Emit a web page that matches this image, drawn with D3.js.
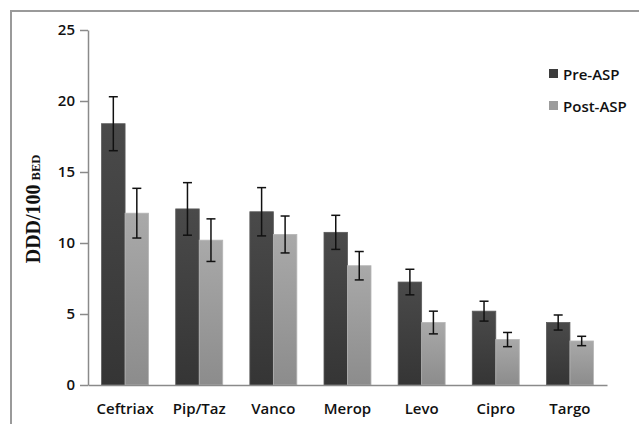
<!DOCTYPE html>
<html>
<head>
<meta charset="utf-8">
<script src="https://cdn.jsdelivr.net/npm/d3@7"></script>
<style>
  body { margin: 0; background: #fff; }
  svg text { font-family: "Open Sans", "Liberation Sans", sans-serif; }
</style>
</head>
<body>
<div id="chart"></div>
<script>
// antibiotics on the x axis
const drugs = ["Ceftriax", "Pip/Taz", "Vanco", "Merop", "Levo", "Cipro", "Targo"];
const seriesNames = ["Pre-ASP", "Post-ASP"];
// DDD/100 bed days
const preASP = [18.4, 12.4, 12.2, 10.75, 7.25, 5.2, 4.4];
const preErr = [1.9, 1.85, 1.7, 1.2, 0.9, 0.7, 0.53];
const postASP = [12.1, 10.2, 10.6, 8.4, 4.4, 3.2, 3.1];
const postErr = [1.75, 1.5, 1.3, 1.0, 0.8, 0.5, 0.33];
const yTicks = [0, 5, 10, 15, 20, 25];

const W = 639, H = 424;
const svg = d3.select("#chart").append("svg")
    .attr("width", W).attr("height", H);

// gradients like the old office charts
const defs = svg.append("defs");
const grads = [
    { id: "gPre", top: "#4a4a4a", bottom: "#353535" },
    { id: "gPost", top: "#a9a9a9", bottom: "#8c8c8c" }
];
grads.forEach(g => {
    const lg = defs.append("linearGradient").attr("id", g.id)
        .attr("x1", 0).attr("y1", 0).attr("x2", 0).attr("y2", 1);
    lg.append("stop").attr("offset", "0%").attr("stop-color", g.top);
    lg.append("stop").attr("offset", "100%").attr("stop-color", g.bottom);
});

// outer frame (runs off the right and bottom edge)
svg.append("rect")
    .attr("x", 11).attr("y", 11)
    .attr("width", 660).attr("height", 440)
    .attr("fill", "none")
    .attr("stroke", "#9a9a9a")
    .attr("stroke-width", 2);

const x0 = d3.scaleBand()
    .domain(drugs)
    .range([88, 607])
    .paddingInner(0.366)
    .paddingOuter(0.183);

const x1 = d3.scaleBand()
    .domain(seriesNames)
    .range([0, x0.bandwidth()]);

const y = d3.scaleLinear()
    .domain([0, 25])
    .range([385, 30]);

const rows = drugs.map((d, i) => ({
    drug: d,
    vals: [
        { s: "Pre-ASP", v: preASP[i], e: preErr[i], fill: "url(#gPre)" },
        { s: "Post-ASP", v: postASP[i], e: postErr[i], fill: "url(#gPost)" }
    ]
}));

const groups = svg.selectAll("g.grp")
    .data(rows)
    .enter().append("g")
    .attr("class", "grp")
    .attr("transform", d => `translate(${x0(d.drug)},0)`);

groups.selectAll("rect")
    .data(d => d.vals)
    .enter().append("rect")
    .attr("x", d => x1(d.s))
    .attr("y", d => y(d.v))
    .attr("width", x1.bandwidth())
    .attr("height", d => y(0) - y(d.v))
    .attr("fill", d => d.fill)
    .attr("stroke", d => d.s === "Pre-ASP" ? "#5a5a5a" : "#b5b5b5")
    .attr("stroke-width", 0.8);

// error bars
const cap = 4.5;
const err = groups.selectAll("g.err")
    .data(d => d.vals)
    .enter().append("g")
    .attr("class", "err")
    .attr("stroke", "#111")
    .attr("stroke-width", 1.5);

err.append("line")
    .attr("x1", d => x1(d.s) + x1.bandwidth() / 2)
    .attr("x2", d => x1(d.s) + x1.bandwidth() / 2)
    .attr("y1", d => y(d.v + d.e))
    .attr("y2", d => y(d.v - d.e));
[1, -1].forEach(sign => {
    err.append("line")
        .attr("x1", d => x1(d.s) + x1.bandwidth() / 2 - cap)
        .attr("x2", d => x1(d.s) + x1.bandwidth() / 2 + cap)
        .attr("y1", d => y(d.v + sign * d.e))
        .attr("y2", d => y(d.v + sign * d.e));
});

// y axis
const yAxis = svg.append("g")
    .attr("transform", "translate(88,0)")
    .call(d3.axisLeft(y).tickValues(yTicks).tickSize(8).tickSizeOuter(0).tickPadding(5));
yAxis.select(".domain").attr("stroke", "#8a8a8a").attr("stroke-width", 1.5);
yAxis.selectAll(".tick line").attr("stroke", "#8a8a8a").attr("stroke-width", 1.5);
yAxis.selectAll(".tick text")
    .attr("font-size", 15)
    .attr("font-weight", 600)
    .attr("fill", "#111")
    .style("font-family", "'Open Sans', sans-serif");

// x axis
const xAxis = svg.append("g")
    .attr("transform", "translate(0,385)")
    .call(d3.axisBottom(x0).tickSize(0).tickPadding(18));
xAxis.select(".domain").attr("stroke", "#8a8a8a").attr("stroke-width", 1.5);
xAxis.selectAll(".tick text")
    .attr("font-size", 15)
    .attr("font-weight", 600)
    .attr("fill", "#111")
    .style("font-family", "'Open Sans', sans-serif");

// y title
const yt = svg.append("text")
    .attr("transform", "translate(40,209) rotate(-90)")
    .attr("text-anchor", "middle")
    .style("font-family", "'Liberation Serif', 'Times New Roman', serif")
    .attr("font-weight", "bold")
    .attr("fill", "#111");
yt.append("tspan").attr("font-size", 20).text("DDD/100");
yt.append("tspan").attr("font-size", 12.5).attr("dx", 4).text("BED");

// legend
const legendFill = { "Pre-ASP": "#3c3c3c", "Post-ASP": "#9c9c9c" };
const legend = svg.append("g").attr("transform", "translate(549,69)");
seriesNames.forEach((s, i) => {
    const it = legend.append("g").attr("transform", `translate(0,${i * 32})`);
    it.append("rect")
        .attr("width", 9).attr("height", 9)
        .attr("fill", legendFill[s]);
    it.append("text")
        .attr("x", 14).attr("y", 11)
        .attr("font-size", 15)
        .attr("font-weight", 600)
        .attr("fill", "#111")
        .text(s);
});
</script>
</body>
</html>
